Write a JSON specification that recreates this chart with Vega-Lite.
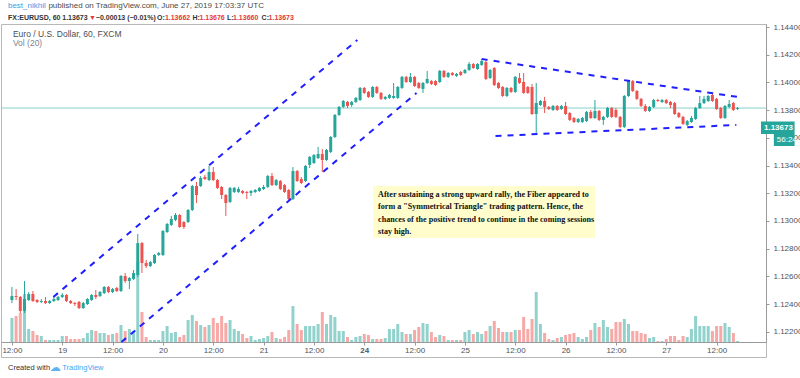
{
"$schema": "https://vega.github.io/schema/vega-lite/v6.json",
"width": 765, "height": 333,
"autosize": {"type": "none"},
"padding": {"left": 1, "top": 24, "right": 34, "bottom": 21},
"background": "white",
"config": {"view": {"stroke": "#b8b8b8", "strokeWidth": 1}, "font": "Liberation Sans", "axis": {"labelOverlap": false, "labelFlush": false}},
"datasets": {
"one": [{}],
"bars": [
{"i":0,"o":1.12429,"h":1.12523,"l":1.12407,"c":1.12458,"v":24},
{"i":1,"o":1.12458,"h":1.12508,"l":1.12429,"c":1.12451,"v":26},
{"i":2,"o":1.12451,"h":1.12458,"l":1.12335,"c":1.12350,"v":29},
{"i":3,"o":1.12350,"h":1.12566,"l":1.12335,"c":1.12436,"v":48},
{"i":4,"o":1.12429,"h":1.12487,"l":1.12422,"c":1.12472,"v":13},
{"i":5,"o":1.12472,"h":1.12494,"l":1.12415,"c":1.12422,"v":11},
{"i":6,"o":1.12429,"h":1.12436,"l":1.12407,"c":1.12415,"v":7},
{"i":7,"o":1.12415,"h":1.12436,"l":1.12407,"c":1.12422,"v":6},
{"i":8,"o":1.12422,"h":1.12451,"l":1.12400,"c":1.12407,"v":2},
{"i":9,"o":1.12407,"h":1.12429,"l":1.12400,"c":1.12422,"v":2},
{"i":10,"o":1.12422,"h":1.12451,"l":1.12415,"c":1.12436,"v":2},
{"i":11,"o":1.12429,"h":1.12458,"l":1.12422,"c":1.12451,"v":2},
{"i":12,"o":1.12451,"h":1.12479,"l":1.12443,"c":1.12465,"v":6},
{"i":13,"o":1.12465,"h":1.12472,"l":1.12415,"c":1.12422,"v":6},
{"i":14,"o":1.12422,"h":1.12429,"l":1.12400,"c":1.12407,"v":3},
{"i":15,"o":1.12407,"h":1.12415,"l":1.12386,"c":1.12400,"v":3},
{"i":16,"o":1.12415,"h":1.12422,"l":1.12364,"c":1.12371,"v":3},
{"i":17,"o":1.12371,"h":1.12415,"l":1.12364,"c":1.12407,"v":4},
{"i":18,"o":1.12400,"h":1.12443,"l":1.12393,"c":1.12436,"v":9},
{"i":19,"o":1.12429,"h":1.12472,"l":1.12422,"c":1.12465,"v":12},
{"i":20,"o":1.12465,"h":1.12501,"l":1.12436,"c":1.12451,"v":11},
{"i":21,"o":1.12458,"h":1.12494,"l":1.12451,"c":1.12487,"v":9},
{"i":22,"o":1.12479,"h":1.12530,"l":1.12472,"c":1.12523,"v":9},
{"i":23,"o":1.12523,"h":1.12530,"l":1.12479,"c":1.12487,"v":7},
{"i":24,"o":1.12487,"h":1.12516,"l":1.12479,"c":1.12508,"v":8},
{"i":25,"o":1.12516,"h":1.12523,"l":1.12487,"c":1.12494,"v":9},
{"i":26,"o":1.12494,"h":1.12610,"l":1.12487,"c":1.12602,"v":17},
{"i":27,"o":1.12602,"h":1.12624,"l":1.12552,"c":1.12566,"v":11},
{"i":28,"o":1.12566,"h":1.12595,"l":1.12508,"c":1.12588,"v":13},
{"i":29,"o":1.12581,"h":1.12646,"l":1.12573,"c":1.12624,"v":11},
{"i":30,"o":1.12610,"h":1.12906,"l":1.12595,"c":1.12840,"v":80},
{"i":31,"o":1.12840,"h":1.12848,"l":1.12624,"c":1.12696,"v":30},
{"i":32,"o":1.12696,"h":1.12718,"l":1.12660,"c":1.12674,"v":5},
{"i":33,"o":1.12674,"h":1.12711,"l":1.12667,"c":1.12703,"v":2},
{"i":34,"o":1.12696,"h":1.12761,"l":1.12689,"c":1.12754,"v":2},
{"i":35,"o":1.12754,"h":1.12776,"l":1.12747,"c":1.12768,"v":2},
{"i":36,"o":1.12754,"h":1.12934,"l":1.12747,"c":1.12927,"v":11},
{"i":37,"o":1.12920,"h":1.12985,"l":1.12913,"c":1.12978,"v":16},
{"i":38,"o":1.12971,"h":1.13036,"l":1.12963,"c":1.13014,"v":9},
{"i":39,"o":1.13007,"h":1.13057,"l":1.12999,"c":1.13043,"v":10},
{"i":40,"o":1.13043,"h":1.13050,"l":1.12949,"c":1.12956,"v":5},
{"i":41,"o":1.12992,"h":1.12999,"l":1.12942,"c":1.12956,"v":7},
{"i":42,"o":1.12992,"h":1.13086,"l":1.12985,"c":1.13079,"v":22},
{"i":43,"o":1.13079,"h":1.13259,"l":1.13072,"c":1.13252,"v":27},
{"i":44,"o":1.13252,"h":1.13281,"l":1.13129,"c":1.13187,"v":21},
{"i":45,"o":1.13252,"h":1.13324,"l":1.13245,"c":1.13310,"v":17},
{"i":46,"o":1.13317,"h":1.13332,"l":1.13295,"c":1.13303,"v":15},
{"i":47,"o":1.13295,"h":1.13397,"l":1.13288,"c":1.13353,"v":17},
{"i":48,"o":1.13353,"h":1.13389,"l":1.13288,"c":1.13295,"v":24},
{"i":49,"o":1.13295,"h":1.13303,"l":1.13230,"c":1.13238,"v":19},
{"i":50,"o":1.13245,"h":1.13252,"l":1.13158,"c":1.13187,"v":26},
{"i":51,"o":1.13187,"h":1.13194,"l":1.13036,"c":1.13129,"v":19},
{"i":52,"o":1.13137,"h":1.13245,"l":1.13129,"c":1.13238,"v":22},
{"i":53,"o":1.13209,"h":1.13245,"l":1.13202,"c":1.13238,"v":13},
{"i":54,"o":1.13209,"h":1.13245,"l":1.13202,"c":1.13230,"v":11},
{"i":55,"o":1.13216,"h":1.13223,"l":1.13194,"c":1.13202,"v":8},
{"i":56,"o":1.13209,"h":1.13216,"l":1.13158,"c":1.13202,"v":4},
{"i":57,"o":1.13202,"h":1.13223,"l":1.13180,"c":1.13216,"v":6},
{"i":58,"o":1.13209,"h":1.13230,"l":1.13202,"c":1.13223,"v":2},
{"i":59,"o":1.13216,"h":1.13245,"l":1.13209,"c":1.13238,"v":3},
{"i":60,"o":1.13230,"h":1.13259,"l":1.13223,"c":1.13245,"v":4},
{"i":61,"o":1.13245,"h":1.13332,"l":1.13238,"c":1.13324,"v":6},
{"i":62,"o":1.13324,"h":1.13346,"l":1.13252,"c":1.13259,"v":10},
{"i":63,"o":1.13259,"h":1.13303,"l":1.13252,"c":1.13295,"v":4},
{"i":64,"o":1.13288,"h":1.13295,"l":1.13223,"c":1.13230,"v":3},
{"i":65,"o":1.13259,"h":1.13266,"l":1.13202,"c":1.13209,"v":5},
{"i":66,"o":1.13223,"h":1.13230,"l":1.13151,"c":1.13158,"v":12},
{"i":67,"o":1.13158,"h":1.13389,"l":1.13151,"c":1.13360,"v":36},
{"i":68,"o":1.13360,"h":1.13368,"l":1.13281,"c":1.13288,"v":18},
{"i":69,"o":1.13303,"h":1.13317,"l":1.13266,"c":1.13274,"v":12},
{"i":70,"o":1.13288,"h":1.13404,"l":1.13281,"c":1.13397,"v":16},
{"i":71,"o":1.13404,"h":1.13469,"l":1.13382,"c":1.13462,"v":16},
{"i":72,"o":1.13418,"h":1.13483,"l":1.13411,"c":1.13476,"v":16},
{"i":73,"o":1.13454,"h":1.13534,"l":1.13447,"c":1.13483,"v":18},
{"i":74,"o":1.13483,"h":1.13519,"l":1.13353,"c":1.13440,"v":30},
{"i":75,"o":1.13440,"h":1.13519,"l":1.13433,"c":1.13512,"v":18},
{"i":76,"o":1.13498,"h":1.13613,"l":1.13490,"c":1.13606,"v":27},
{"i":77,"o":1.13606,"h":1.13772,"l":1.13599,"c":1.13765,"v":25},
{"i":78,"o":1.13765,"h":1.13830,"l":1.13758,"c":1.13823,"v":11},
{"i":79,"o":1.13823,"h":1.13873,"l":1.13815,"c":1.13866,"v":11},
{"i":80,"o":1.13859,"h":1.13866,"l":1.13815,"c":1.13830,"v":5},
{"i":81,"o":1.13837,"h":1.13866,"l":1.13823,"c":1.13859,"v":2},
{"i":82,"o":1.13859,"h":1.13895,"l":1.13851,"c":1.13888,"v":5},
{"i":83,"o":1.13873,"h":1.13967,"l":1.13866,"c":1.13960,"v":6},
{"i":84,"o":1.13960,"h":1.13967,"l":1.13917,"c":1.13924,"v":8},
{"i":85,"o":1.13931,"h":1.13938,"l":1.13888,"c":1.13895,"v":7},
{"i":86,"o":1.13895,"h":1.13974,"l":1.13888,"c":1.13967,"v":3},
{"i":87,"o":1.13967,"h":1.13974,"l":1.13917,"c":1.13924,"v":3},
{"i":88,"o":1.13924,"h":1.13931,"l":1.13873,"c":1.13881,"v":3},
{"i":89,"o":1.13881,"h":1.13902,"l":1.13873,"c":1.13895,"v":4},
{"i":90,"o":1.13888,"h":1.13917,"l":1.13881,"c":1.13909,"v":13},
{"i":91,"o":1.13888,"h":1.13996,"l":1.13881,"c":1.13902,"v":13},
{"i":92,"o":1.13888,"h":1.13974,"l":1.13881,"c":1.13967,"v":18},
{"i":93,"o":1.13960,"h":1.14047,"l":1.13953,"c":1.14040,"v":10},
{"i":94,"o":1.14040,"h":1.14047,"l":1.13996,"c":1.14003,"v":8},
{"i":95,"o":1.14003,"h":1.14068,"l":1.13996,"c":1.14040,"v":8},
{"i":96,"o":1.14040,"h":1.14047,"l":1.13967,"c":1.13974,"v":12},
{"i":97,"o":1.13996,"h":1.14003,"l":1.13953,"c":1.13960,"v":15},
{"i":98,"o":1.13953,"h":1.14003,"l":1.13924,"c":1.13996,"v":19},
{"i":99,"o":1.13996,"h":1.14083,"l":1.13989,"c":1.14025,"v":18},
{"i":100,"o":1.14010,"h":1.14017,"l":1.13981,"c":1.13989,"v":10},
{"i":101,"o":1.14010,"h":1.14017,"l":1.13974,"c":1.13981,"v":5},
{"i":102,"o":1.14003,"h":1.14090,"l":1.13996,"c":1.14083,"v":7},
{"i":103,"o":1.14083,"h":1.14090,"l":1.14032,"c":1.14040,"v":6},
{"i":104,"o":1.14040,"h":1.14075,"l":1.14032,"c":1.14068,"v":2},
{"i":105,"o":1.14068,"h":1.14075,"l":1.14047,"c":1.14054,"v":2},
{"i":106,"o":1.14047,"h":1.14068,"l":1.14040,"c":1.14061,"v":2},
{"i":107,"o":1.14075,"h":1.14083,"l":1.14047,"c":1.14054,"v":2},
{"i":108,"o":1.14068,"h":1.14097,"l":1.14061,"c":1.14090,"v":10},
{"i":109,"o":1.14090,"h":1.14147,"l":1.14083,"c":1.14133,"v":12},
{"i":110,"o":1.14133,"h":1.14140,"l":1.14097,"c":1.14104,"v":8},
{"i":111,"o":1.14097,"h":1.14140,"l":1.14090,"c":1.14133,"v":10},
{"i":112,"o":1.14126,"h":1.14169,"l":1.14119,"c":1.14155,"v":8},
{"i":113,"o":1.14147,"h":1.14162,"l":1.14017,"c":1.14025,"v":11},
{"i":114,"o":1.14032,"h":1.14097,"l":1.14025,"c":1.14090,"v":16},
{"i":115,"o":1.14104,"h":1.14111,"l":1.13974,"c":1.13981,"v":21},
{"i":116,"o":1.13996,"h":1.14003,"l":1.13953,"c":1.13960,"v":14},
{"i":117,"o":1.13967,"h":1.13974,"l":1.13895,"c":1.13902,"v":10},
{"i":118,"o":1.13902,"h":1.13967,"l":1.13895,"c":1.13960,"v":10},
{"i":119,"o":1.13960,"h":1.13967,"l":1.13924,"c":1.13931,"v":10},
{"i":120,"o":1.13931,"h":1.14047,"l":1.13924,"c":1.14040,"v":12},
{"i":121,"o":1.14032,"h":1.14068,"l":1.13989,"c":1.13996,"v":12},
{"i":122,"o":1.14003,"h":1.14068,"l":1.13917,"c":1.13924,"v":25},
{"i":123,"o":1.13967,"h":1.13974,"l":1.13917,"c":1.13924,"v":13},
{"i":124,"o":1.13967,"h":1.13989,"l":1.13765,"c":1.13772,"v":23},
{"i":125,"o":1.13772,"h":1.13996,"l":1.13635,"c":1.13851,"v":50},
{"i":126,"o":1.13837,"h":1.13873,"l":1.13830,"c":1.13866,"v":18},
{"i":127,"o":1.13866,"h":1.13895,"l":1.13779,"c":1.13823,"v":9},
{"i":128,"o":1.13823,"h":1.13830,"l":1.13801,"c":1.13808,"v":3},
{"i":129,"o":1.13801,"h":1.13837,"l":1.13794,"c":1.13830,"v":2},
{"i":130,"o":1.13830,"h":1.13837,"l":1.13794,"c":1.13801,"v":4},
{"i":131,"o":1.13808,"h":1.13837,"l":1.13801,"c":1.13830,"v":5},
{"i":132,"o":1.13830,"h":1.13859,"l":1.13765,"c":1.13772,"v":7},
{"i":133,"o":1.13779,"h":1.13786,"l":1.13721,"c":1.13729,"v":8},
{"i":134,"o":1.13743,"h":1.13751,"l":1.13707,"c":1.13714,"v":9},
{"i":135,"o":1.13714,"h":1.13743,"l":1.13707,"c":1.13736,"v":5},
{"i":136,"o":1.13714,"h":1.13751,"l":1.13707,"c":1.13743,"v":3},
{"i":137,"o":1.13721,"h":1.13794,"l":1.13714,"c":1.13786,"v":5},
{"i":138,"o":1.13786,"h":1.13801,"l":1.13736,"c":1.13743,"v":12},
{"i":139,"o":1.13743,"h":1.13873,"l":1.13736,"c":1.13794,"v":19},
{"i":140,"o":1.13794,"h":1.13801,"l":1.13721,"c":1.13729,"v":15},
{"i":141,"o":1.13729,"h":1.13758,"l":1.13693,"c":1.13751,"v":22},
{"i":142,"o":1.13751,"h":1.13823,"l":1.13743,"c":1.13815,"v":15},
{"i":143,"o":1.13815,"h":1.13823,"l":1.13743,"c":1.13751,"v":13},
{"i":144,"o":1.13801,"h":1.13815,"l":1.13743,"c":1.13751,"v":20},
{"i":145,"o":1.13751,"h":1.13758,"l":1.13671,"c":1.13678,"v":20},
{"i":146,"o":1.13678,"h":1.13909,"l":1.13671,"c":1.13902,"v":23},
{"i":147,"o":1.13902,"h":1.14017,"l":1.13895,"c":1.14010,"v":18},
{"i":148,"o":1.14010,"h":1.14017,"l":1.13931,"c":1.13938,"v":11},
{"i":149,"o":1.13938,"h":1.13945,"l":1.13873,"c":1.13881,"v":11},
{"i":150,"o":1.13881,"h":1.13888,"l":1.13823,"c":1.13830,"v":9},
{"i":151,"o":1.13830,"h":1.13844,"l":1.13786,"c":1.13794,"v":8},
{"i":152,"o":1.13794,"h":1.13830,"l":1.13786,"c":1.13823,"v":4},
{"i":153,"o":1.13823,"h":1.13881,"l":1.13815,"c":1.13873,"v":5},
{"i":154,"o":1.13873,"h":1.13881,"l":1.13859,"c":1.13866,"v":1},
{"i":155,"o":1.13859,"h":1.13881,"l":1.13851,"c":1.13873,"v":1},
{"i":156,"o":1.13873,"h":1.13881,"l":1.13844,"c":1.13851,"v":3},
{"i":157,"o":1.13859,"h":1.13866,"l":1.13815,"c":1.13837,"v":6},
{"i":158,"o":1.13851,"h":1.13859,"l":1.13765,"c":1.13772,"v":6},
{"i":159,"o":1.13779,"h":1.13786,"l":1.13743,"c":1.13751,"v":2},
{"i":160,"o":1.13751,"h":1.13758,"l":1.13693,"c":1.13700,"v":6},
{"i":161,"o":1.13693,"h":1.13729,"l":1.13685,"c":1.13721,"v":5},
{"i":162,"o":1.13714,"h":1.13758,"l":1.13707,"c":1.13743,"v":13},
{"i":163,"o":1.13736,"h":1.13823,"l":1.13729,"c":1.13815,"v":26},
{"i":164,"o":1.13815,"h":1.13902,"l":1.13808,"c":1.13851,"v":16},
{"i":165,"o":1.13851,"h":1.13902,"l":1.13844,"c":1.13881,"v":16},
{"i":166,"o":1.13866,"h":1.13909,"l":1.13859,"c":1.13902,"v":16},
{"i":167,"o":1.13909,"h":1.13917,"l":1.13859,"c":1.13866,"v":11},
{"i":168,"o":1.13881,"h":1.13888,"l":1.13801,"c":1.13808,"v":16},
{"i":169,"o":1.13815,"h":1.13823,"l":1.13736,"c":1.13743,"v":16},
{"i":170,"o":1.13743,"h":1.13837,"l":1.13736,"c":1.13830,"v":19},
{"i":171,"o":1.13823,"h":1.13873,"l":1.13815,"c":1.13844,"v":15},
{"i":172,"o":1.13851,"h":1.13859,"l":1.13794,"c":1.13801,"v":9},
{"i":173,"o":1.13808,"h":1.13823,"l":1.13801,"c":1.13815,"v":1}
],
"lines": [
{"line":"channel_top","i":9.88,"p":1.124507},
{"line":"channel_top","i":82.35,"p":1.143062},
{"line":"channel_bottom","i":26.12,"p":1.121258},
{"line":"channel_bottom","i":96.47,"p":1.139235},
{"line":"triangle_top","i":112.0,"p":1.141690},
{"line":"triangle_top","i":173.88,"p":1.138911},
{"line":"triangle_bottom","i":115.29,"p":1.136131},
{"line":"triangle_bottom","i":172.71,"p":1.136925}
]
},
"resolve": {"scale": {"y": "independent"}},
"layer": [
{
"data": {"name": "bars"},
"mark": {"type": "bar", "orient": "vertical", "size": 3},
"encoding": {
"x": {"field": "i", "type": "quantitative", "title": null,
 "scale": {"domain": [-1.4118, 178.588], "nice": false, "zero": false},
 "axis": {"values": [0,12,24,36,48,60,72,84,96,108,120,132,144,156,168],
  "labelExpr": "datum.value % 24 == 0 ? '12:00' : ['19','20','21','24','25','26','27'][(datum.value - 12) / 24]",
  "title": null, "grid": false, "offset": -15, "tickSize": 3, "tickColor": "#9a9a9a", "domainColor": "#9a9a9a",
  "labelColor": "#4f525c", "labelFontSize": 8, "labelPadding": 1, "labelOverlap": false, "labelFlush": false, "labelBound": false,
  "labelFontWeight": {"condition": {"test": "datum.value == 84", "value": "bold"}, "value": "normal"},
  "encode": {"labels": {"update": {"align": {"value": "center"}}}}}},
"y": {"field": "v", "type": "quantitative", "scale": {"domain": [0, 318], "range": [318, 0], "nice": false}, "axis": null},
"color": {"condition": {"test": "datum.c >= datum.o", "value": "#92d2cc"}, "value": "#f7a9a7"}
}
},
{
"data": {"values": [{"p": 1.13815}]},
"mark": {"type": "rule", "color": "#86d0c9", "strokeWidth": 1},
"encoding": {"y": {"field": "p", "type": "quantitative", "title": null,
 "scale": {"domain": [1.121258, 1.144217], "range": [318, 0], "nice": false, "zero": false},
 "axis": {"orient": "right", "values": [1.144,1.14,1.136,1.132,1.128,1.124],
  "format": ".5f", "title": null, "grid": false, "tickSize": 3, "tickColor": "#9a9a9a", "domainColor": "#9a9a9a",
  "labelColor": "#4f525c", "labelFontSize": 8, "labelPadding": 4, "labelOverlap": false, "labelFlush": false, "labelBound": false}}}
},
{
"layer": [
{
"data": {"name": "bars"},
"mark": {"type": "rule", "strokeWidth": 1},
"encoding": {
"x": {"field": "i", "type": "quantitative", "title": null},
"y": {"field": "l", "type": "quantitative", "title": null, "axis": null,
 "scale": {"domain": [1.121258, 1.144217], "range": [318, 0], "nice": false, "zero": false}},
"y2": {"field": "h"},
"color": {"condition": {"test": "datum.c >= datum.o", "value": "#26a69a"}, "value": "#ef5350"}
}
},
{
"data": {"name": "bars"},
"mark": {"type": "bar", "orient": "vertical", "size": 3},
"encoding": {
"x": {"field": "i", "type": "quantitative", "title": null},
"y": {"field": "o", "type": "quantitative", "title": null, "axis": null},
"y2": {"field": "c"},
"color": {"condition": {"test": "datum.c >= datum.o", "value": "#26a69a"}, "value": "#ef5350"}
}
},
{
"data": {"name": "one"},
"mark": {"type": "rect", "fill": "#fffdcc", "clip": false},
"encoding": {"x": {"datum": 86.12}, "x2": {"datum": 139.06}, "y": {"datum": 1.132521, "axis": null}, "y2": {"datum": 1.128766}}
},
{
"data": {"name": "one"},
"mark": {"type": "text", "font": "Liberation Serif", "fontWeight": "bold", "fontSize": 8.1, "align": "left", "baseline": "middle", "color": "#111111", "clip": false, "text": "After sustaining a strong upward rally, the Fiber appeared to"},
"encoding": {"x": {"datum": 87.29}, "y": {"datum": 1.131871, "axis": null}}
},
{
"data": {"name": "one"},
"mark": {"type": "text", "font": "Liberation Serif", "fontWeight": "bold", "fontSize": 8.1, "align": "left", "baseline": "middle", "color": "#111111", "clip": false, "text": "form a \"Symmetrical Triangle\" trading pattern. Hence, the"},
"encoding": {"x": {"datum": 87.29}, "y": {"datum": 1.130969, "axis": null}}
},
{
"data": {"name": "one"},
"mark": {"type": "text", "font": "Liberation Serif", "fontWeight": "bold", "fontSize": 8.1, "align": "left", "baseline": "middle", "color": "#111111", "clip": false, "text": "chances of the positive trend to continue in the coming sessions"},
"encoding": {"x": {"datum": 87.29}, "y": {"datum": 1.130066, "axis": null}}
},
{
"data": {"name": "one"},
"mark": {"type": "text", "font": "Liberation Serif", "fontWeight": "bold", "fontSize": 8.1, "align": "left", "baseline": "middle", "color": "#111111", "clip": false, "text": "stay high."},
"encoding": {"x": {"datum": 87.29}, "y": {"datum": 1.129200, "axis": null}}
},
{
"data": {"name": "one"},
"mark": {"type": "rect", "fill": "#26a69a", "clip": false},
"encoding": {"x": {"datum": 178.59}, "x2": {"datum": 186.6}, "y": {"datum": 1.137178, "axis": null}, "y2": {"datum": 1.136275}}
},
{
"data": {"name": "one"},
"mark": {"type": "rect", "fill": "#26a69a", "clip": false},
"encoding": {"x": {"datum": 181.65}, "x2": {"datum": 186.6}, "y": {"datum": 1.136275, "axis": null}, "y2": {"datum": 1.135409}}
},
{
"data": {"name": "one"},
"mark": {"type": "text", "fontSize": 8, "fontWeight": "bold", "align": "left", "baseline": "middle", "color": "white", "clip": false, "text": "1.13673"},
"encoding": {"x": {"datum": 179.3}, "y": {"datum": 1.13673, "axis": null}}
},
{
"data": {"name": "one"},
"mark": {"type": "text", "fontSize": 8, "align": "left", "baseline": "middle", "color": "white", "clip": false, "text": "56:24"},
"encoding": {"x": {"datum": 182.35}, "y": {"datum": 1.135842, "axis": null}}
},
{
"data": {"name": "one"},
"mark": {"type": "text", "fontSize": 8.5, "align": "left", "baseline": "middle", "color": "#4a4d57", "clip": false, "text": "Euro / U.S. Dollar, 60, FXCM"},
"encoding": {"x": {"datum": 0.235}, "y": {"datum": 1.143495, "axis": null}}
},
{
"data": {"name": "one"},
"mark": {"type": "text", "fontSize": 8.5, "align": "left", "baseline": "middle", "color": "#808390", "clip": false, "text": "Vol (20)"},
"encoding": {"x": {"datum": 0.235}, "y": {"datum": 1.142845, "axis": null}}
},
{
"data": {"name": "one"},
"mark": {"type": "text", "fontSize": 8, "align": "left", "baseline": "middle", "color": "#3d9be9", "clip": false, "text": "best_nikhil"},
"encoding": {"x": {"datum": -0.941}, "y": {"datum": 1.145517, "axis": null}}
},
{
"data": {"name": "one"},
"mark": {"type": "text", "fontSize": 8, "align": "left", "baseline": "middle", "color": "#4a4a4a", "clip": false, "text": "published on TradingView.com, June 27, 2019 17:03:37 UTC"},
"encoding": {"x": {"datum": 8.7}, "y": {"datum": 1.145517, "axis": null}}
},
{
"data": {"name": "one"},
"mark": {"type": "text", "fontSize": 7, "fontWeight": "bold", "align": "left", "baseline": "middle", "color": "#333333", "clip": false, "text": "FX:EURUSD, 60"},
"encoding": {"x": {"datum": -0.941}, "y": {"datum": 1.14465, "axis": null}}
},
{
"data": {"name": "one"},
"mark": {"type": "text", "fontSize": 7, "fontWeight": "bold", "align": "left", "baseline": "middle", "color": "#333333", "clip": false, "text": "1.13673"},
"encoding": {"x": {"datum": 12.0}, "y": {"datum": 1.14465, "axis": null}}
},
{
"data": {"name": "one"},
"mark": {"type": "text", "fontSize": 7, "align": "left", "baseline": "middle", "color": "#e53935", "clip": false, "text": "▼"},
"encoding": {"x": {"datum": 18.35}, "y": {"datum": 1.14465, "axis": null}}
},
{
"data": {"name": "one"},
"mark": {"type": "text", "fontSize": 7, "fontWeight": "bold", "align": "left", "baseline": "middle", "color": "#333333", "clip": false, "text": "−0.00013 (−0.01%)"},
"encoding": {"x": {"datum": 20.0}, "y": {"datum": 1.14465, "axis": null}}
},
{
"data": {"name": "one"},
"mark": {"type": "text", "fontSize": 7, "fontWeight": "bold", "align": "left", "baseline": "middle", "color": "#333333", "clip": false, "text": "O:"},
"encoding": {"x": {"datum": 34.59}, "y": {"datum": 1.14465, "axis": null}}
},
{
"data": {"name": "one"},
"mark": {"type": "text", "fontSize": 7, "fontWeight": "bold", "align": "left", "baseline": "middle", "color": "#e53935", "clip": false, "text": "1.13662"},
"encoding": {"x": {"datum": 36.47}, "y": {"datum": 1.14465, "axis": null}}
},
{
"data": {"name": "one"},
"mark": {"type": "text", "fontSize": 7, "fontWeight": "bold", "align": "left", "baseline": "middle", "color": "#333333", "clip": false, "text": "H:"},
"encoding": {"x": {"datum": 43.06}, "y": {"datum": 1.14465, "axis": null}}
},
{
"data": {"name": "one"},
"mark": {"type": "text", "fontSize": 7, "fontWeight": "bold", "align": "left", "baseline": "middle", "color": "#e53935", "clip": false, "text": "1.13676"},
"encoding": {"x": {"datum": 44.71}, "y": {"datum": 1.14465, "axis": null}}
},
{
"data": {"name": "one"},
"mark": {"type": "text", "fontSize": 7, "fontWeight": "bold", "align": "left", "baseline": "middle", "color": "#333333", "clip": false, "text": "L:"},
"encoding": {"x": {"datum": 51.29}, "y": {"datum": 1.14465, "axis": null}}
},
{
"data": {"name": "one"},
"mark": {"type": "text", "fontSize": 7, "fontWeight": "bold", "align": "left", "baseline": "middle", "color": "#e53935", "clip": false, "text": "1.13660"},
"encoding": {"x": {"datum": 52.71}, "y": {"datum": 1.14465, "axis": null}}
},
{
"data": {"name": "one"},
"mark": {"type": "text", "fontSize": 7, "fontWeight": "bold", "align": "left", "baseline": "middle", "color": "#333333", "clip": false, "text": "C:"},
"encoding": {"x": {"datum": 59.53}, "y": {"datum": 1.14465, "axis": null}}
},
{
"data": {"name": "one"},
"mark": {"type": "text", "fontSize": 7, "fontWeight": "bold", "align": "left", "baseline": "middle", "color": "#e53935", "clip": false, "text": "1.13673"},
"encoding": {"x": {"datum": 61.18}, "y": {"datum": 1.14465, "axis": null}}
},
{
"data": {"name": "one"},
"mark": {"type": "text", "fontSize": 7.5, "align": "left", "baseline": "middle", "color": "#333333", "clip": false, "text": "Created with"},
"encoding": {"x": {"datum": -0.941}, "y": {"datum": 1.11938, "axis": null}}
},
{
"data": {"name": "one"},
"mark": {"type": "text", "font": "DejaVu Sans", "fontSize": 11, "align": "left", "baseline": "middle", "color": "#5fb3ef", "clip": false, "text": "☁"},
"encoding": {"x": {"datum": 9.0}, "y": {"datum": 1.11938, "axis": null}}
},
{
"data": {"name": "one"},
"mark": {"type": "text", "fontSize": 7.5, "align": "left", "baseline": "middle", "color": "#42a5f5", "clip": false, "text": "TradingView"},
"encoding": {"x": {"datum": 12.0}, "y": {"datum": 1.11938, "axis": null}}
}
]
},
{
"data": {"name": "lines"},
"mark": {"type": "line", "color": "#1f1fff", "strokeWidth": 2, "strokeDash": [6, 6], "strokeCap": "butt"},
"encoding": {
"x": {"field": "i", "type": "quantitative", "title": null},
"y": {"field": "p", "type": "quantitative", "title": null,
 "scale": {"domain": [1.121258, 1.144217], "range": [318, 0], "nice": false, "zero": false},
 "axis": {"orient": "right", "values": [1.142,1.138,1.134,1.13,1.126,1.122],
  "format": ".5f", "title": null, "grid": false, "tickSize": 3, "tickColor": "#9a9a9a", "domainColor": "#9a9a9a",
  "labelColor": "#4f525c", "labelFontSize": 8, "labelPadding": 4, "labelOverlap": false, "labelFlush": false, "labelBound": false}},
"detail": {"field": "line"}
}
}
]
}
